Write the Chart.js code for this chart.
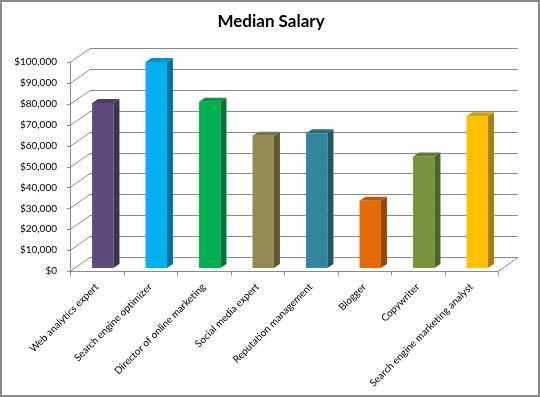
<!DOCTYPE html>
<html>
<head>
<meta charset="utf-8">
<script src="https://cdn.jsdelivr.net/npm/chart.js@4"></script>
<style>
  html, body { margin: 0; padding: 0; background: #fff; }
  #wrap { width: 540px; height: 397px; }
</style>
</head>
<body>
<div id="wrap"><canvas id="salaryChart" width="540" height="397"></canvas></div>
<script>
// ------------------------------
// Data
// ------------------------------

const chartTitle = "Median Salary";

const jobTitles = [
    "Web analytics expert",
    "Search engine optimizer",
    "Director of online marketing",
    "Social media expert",
    "Reputation management",
    "Blogger",
    "Copywriter",
    "Search engine marketing analyst"
];

const medianSalary = [79000, 98600, 79500, 63300, 64500, 32200, 53400, 72600];

const yMin = 0;
const yMax = 100000;
const yStep = 10000;

// ------------------------------
// Colours (front / side / top)
// ------------------------------

const frontColors = ["#604A7B", "#00B0F0", "#00B050", "#948A54", "#31859C", "#E36C09", "#77933C", "#FFC000"];
const sideColors  = ["#3F3151", "#0074A0", "#007636", "#5F5835", "#205867", "#974806", "#4F6228", "#A88000"];
const topColors   = ["#4E3C66", "#0092C8", "#009344", "#7A7145", "#286E82", "#BE5A07", "#637A31", "#D6A100"];

const gridColor = "#8C8C8C";
const fontFamily = "Lato, 'Liberation Sans', sans-serif";

// wall depth and bar depth offsets (oblique 3D look)
const wallDx = 20, wallDy = -14;
const barShiftX = 6, barShiftY = -3;
const barDx = 6, barDy = -4;

// ------------------------------
// 3D plugin
// ------------------------------

const fake3d = {

    id: "fake3d",

    beforeDatasetsDraw(chart){

        const ctx = chart.ctx;
        const area = chart.chartArea;
        const yScale = chart.scales.y;
        const xScale = chart.scales.x;

        ctx.save();
        ctx.strokeStyle = gridColor;
        ctx.lineWidth = 1;

        // back wall gridlines + left wall diagonals
        for(let v = yMin; v <= yMax; v += yStep){

            const y = Math.round(yScale.getPixelForValue(v)) + 0.5;

            ctx.beginPath();
            ctx.moveTo(area.left + wallDx, y + wallDy);
            ctx.lineTo(area.right + wallDx, y + wallDy);
            ctx.stroke();

            ctx.beginPath();
            ctx.moveTo(area.left, y);
            ctx.lineTo(area.left + wallDx, y + wallDy);
            ctx.stroke();

            // tick mark on y axis
            ctx.beginPath();
            ctx.moveTo(area.left - 3, y);
            ctx.lineTo(area.left, y);
            ctx.stroke();
        }

        // front axis lines
        const left = Math.round(area.left) + 0.5;
        const bottom = Math.round(yScale.getPixelForValue(yMin)) + 0.5;
        const top = Math.round(yScale.getPixelForValue(yMax)) + 0.5;

        ctx.beginPath();
        ctx.moveTo(left, top);
        ctx.lineTo(left, bottom);
        ctx.lineTo(area.right, bottom);
        ctx.lineTo(area.right + wallDx, bottom + wallDy);
        ctx.stroke();

        // category tick marks
        const n = jobTitles.length;
        const half = (xScale.getPixelForValue(1) - xScale.getPixelForValue(0)) / 2;

        for(let i = 0; i <= n; i++){

            const x = Math.round(xScale.getPixelForValue(i) - half) + 0.5;

            ctx.beginPath();
            ctx.moveTo(x, bottom);
            ctx.lineTo(x, bottom + 4);
            ctx.stroke();
        }

        ctx.restore();

        // bars sit in the middle of the depth
        ctx.save();
        ctx.translate(barShiftX, barShiftY);
    },

    afterDatasetsDraw(chart){

        const ctx = chart.ctx;
        const bars = chart.getDatasetMeta(0).data;

        bars.forEach(function(bar, i){

            const p = bar.getProps(["x", "y", "base", "width"], true);
            const l = p.x - p.width / 2;
            const r = p.x + p.width / 2;

            // side face
            ctx.fillStyle = sideColors[i];
            ctx.beginPath();
            ctx.moveTo(r, p.y);
            ctx.lineTo(r + barDx, p.y + barDy);
            ctx.lineTo(r + barDx, p.base + barDy);
            ctx.lineTo(r, p.base);
            ctx.closePath();
            ctx.fill();

            // top face
            ctx.fillStyle = topColors[i];
            ctx.beginPath();
            ctx.moveTo(l, p.y);
            ctx.lineTo(l + barDx, p.y + barDy);
            ctx.lineTo(r + barDx, p.y + barDy);
            ctx.lineTo(r, p.y);
            ctx.closePath();
            ctx.fill();
        });

        ctx.restore();
    },

    afterDraw(chart){

        const ctx = chart.ctx;

        // title, centred like the original (over the whole picture)
        ctx.save();
        ctx.fillStyle = "#000";
        ctx.font = "bold 17px " + fontFamily;
        ctx.textAlign = "center";
        ctx.textBaseline = "alphabetic";
        ctx.fillText(chartTitle, 271, 27);
        ctx.restore();

        // outer frame
        ctx.save();
        ctx.strokeStyle = "#8A8A8A";
        ctx.lineWidth = 2;
        ctx.strokeRect(1, 1, chart.width - 2, chart.height - 2);
        ctx.restore();
    }
};

// ------------------------------
// Chart
// ------------------------------

new Chart(document.getElementById("salaryChart"), {

    type: "bar",

    data: {
        labels: jobTitles,
        datasets: [{
            label: "Median Salary",
            data: medianSalary,
            backgroundColor: frontColors,
            borderWidth: 0,
            categoryPercentage: 1,
            barPercentage: 0.4,
            clip: false
        }]
    },

    options: {
        responsive: false,
        animation: false,
        devicePixelRatio: 1,

        layout: {
            padding: { left: 4, right: 42, top: 62, bottom: 0 }
        },

        plugins: {
            legend: { display: false },
            tooltip: { enabled: false },
            title: { display: false }
        },

        scales: {
            x: {
                grid: { display: false },
                border: { display: false },
                ticks: {
                    color: "#000",
                    font: { family: fontFamily, size: 10 },
                    minRotation: 45,
                    maxRotation: 45,
                    autoSkip: false,
                    padding: 2
                },
                afterFit(scale){
                    scale.height = 126;
                }
            },
            y: {
                min: yMin,
                max: yMax,
                grid: { display: false },
                border: { display: false },
                ticks: {
                    stepSize: yStep,
                    color: "#000",
                    padding: 5,
                    font: { family: fontFamily, size: 10 },
                    callback: function(value){
                        return "$" + value.toLocaleString("en-US");
                    }
                },
                afterFit(scale){
                    scale.width = 66;
                }
            }
        }
    },

    plugins: [fake3d]
});
</script>
</body>
</html>
